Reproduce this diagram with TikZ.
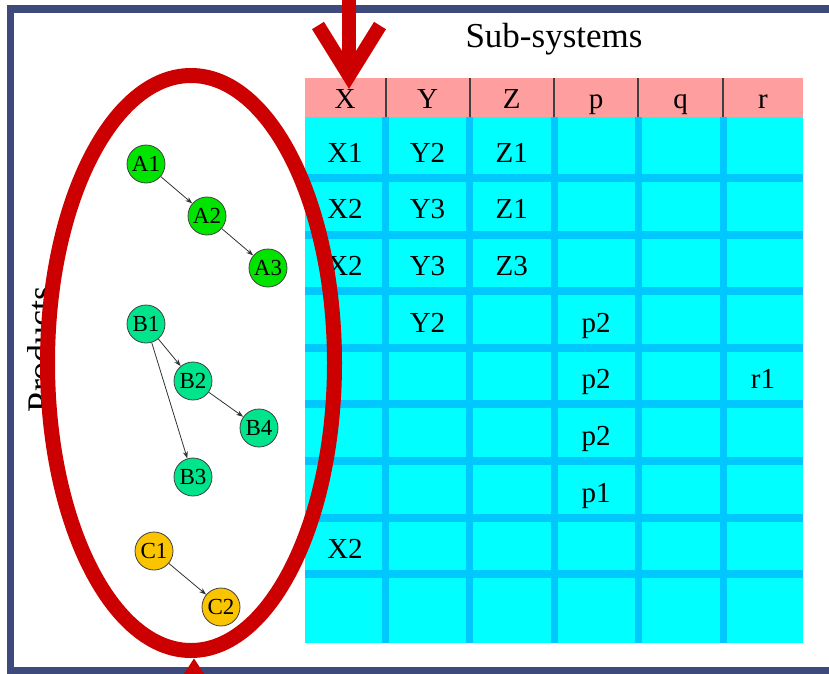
\documentclass[tikz,border=0pt]{standalone}
\usepackage{fontspec}
\setmainfont{Liberation Serif}
\usetikzlibrary{arrows.meta,shapes.geometric}
\definecolor{framecol}{RGB}{62,74,124}
\definecolor{ringred}{RGB}{204,0,0}
\definecolor{headpink}{RGB}{255,158,158}
\definecolor{cellcyan}{RGB}{0,255,255}
\definecolor{gridblue}{RGB}{0,200,255}
\definecolor{grpA}{RGB}{0,228,0}
\definecolor{grpB}{RGB}{0,228,140}
\definecolor{grpC}{RGB}{250,196,0}

\begin{document}
\begin{tikzpicture}[x=1pt, y=-1pt,
  prod/.style={circle, draw=black!75, line width=0.8pt, minimum size=38pt, inner sep=0pt, font=\fontsize{23}{23}\selectfont},
  dep/.style={-{Stealth[length=7pt,width=5pt]}, line width=0.8pt, black!80},
  cell/.style={anchor=base, inner sep=0pt, font=\fontsize{29}{29}\selectfont},
  ring/.style={ellipse, draw=ringred, line width=15pt, inner sep=0pt},
  bigarrow/.style={ringred, line width=14pt, -{Straight Barb[length=50pt,width=62pt]}},
  uparrow/.style={ringred, line width=14pt, -{Triangle[length=30pt,width=36pt]}}
]
\useasboundingbox (0,0) rectangle (829,673);

\draw[framecol, line width=7.5pt] (10.5,9) rectangle (840,670.5);

\fill[cellcyan] (305,117) rectangle (803,643);
\fill[headpink] (305,78) rectangle (803,117);
\foreach \k in {0,...,7}
  \draw[gridblue, line width=8pt] (305,{178+56.6*\k}) -- (803,{178+56.6*\k});
\foreach \x in {385.5,469.5,554,638,723} {
  \draw[gridblue, line width=7pt] (\x,117) -- (\x,643);
  \draw[black!75, line width=2pt] (\x,78) -- (\x,117);
}

\node[anchor=base, font=\fontsize{35}{35}\selectfont] (subsys) at (554,47) {Sub-systems};
\foreach \t/\x in {X/345, Y/427.5, Z/511.75, p/596, q/680.5, r/763}
  \node[cell] (h\t) at (\x,108) {\t};
\foreach \t/\x/\r in {X1/345/1, Y2/427.5/1, Z1/511.75/1,
                      X2/345/2, Y3/427.5/2, Z1/511.75/2,
                      X2/345/3, Y3/427.5/3, Z3/511.75/3,
                      Y2/427.5/4, p2/596/4,
                      p2/596/5, r1/763/5,
                      p2/596/6,
                      p1/596/7,
                      X2/345/8}
  \node[cell] (row\r-\t) at (\x,{162+56.7*(\r-1)}) {\t};

\node[rotate=90, anchor=base, font=\fontsize{36}{36}\selectfont] (prodlabel) at (52,349) {Products};

\node[prod, fill=grpA] (A1) at (146,164) {A1};
\node[prod, fill=grpA] (A2) at (207,216) {A2};
\node[prod, fill=grpA] (A3) at (268,268) {A3};
\node[prod, fill=grpB] (B1) at (146,324) {B1};
\node[prod, fill=grpB] (B2) at (193,381) {B2};
\node[prod, fill=grpB] (B4) at (259,428) {B4};
\node[prod, fill=grpB] (B3) at (193,477) {B3};
\node[prod, fill=grpC] (C1) at (154,551) {C1};
\node[prod, fill=grpC] (C2) at (221,607) {C2};

\draw[dep] (A1) -- (A2);
\draw[dep] (A2) -- (A3);
\draw[dep] (B1) -- (B2);
\draw[dep] (B1) -- (B3);
\draw[dep] (B2) -- (B4);
\draw[dep] (C1) -- (C2);

\node[ring, minimum width=287pt, minimum height=575pt] (prodring) at (191,363) {};

\coordinate (droptop) at (349,-40);
\draw[bigarrow] (droptop) -- (droptop |- hX.north);
\coordinate (risebot) at (194,760);
\draw[uparrow] (risebot) -- (risebot |- prodring.south);
\end{tikzpicture}
\end{document}
